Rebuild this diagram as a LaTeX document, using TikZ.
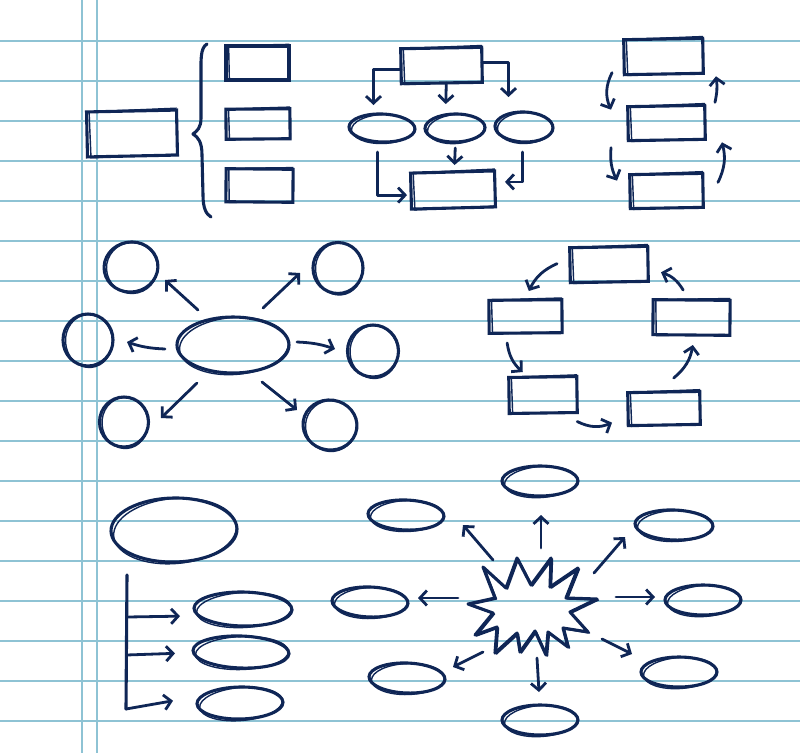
\documentclass[tikz,border=0pt]{standalone}
\usetikzlibrary{arrows.meta,shapes.geometric,calc}
\definecolor{ink}{HTML}{0F2656}
\definecolor{rule}{HTML}{8EC3D4}
\tikzset{
 skbox/.style={draw=ink, line width=3.1pt, rectangle, inner sep=0pt, outer sep=0pt},
 skboxb/.style={draw=ink, line width=1.4pt, rectangle, inner sep=0pt, outer sep=0pt},
 skell/.style={draw=ink, line width=3.1pt, ellipse, inner sep=0pt, outer sep=0pt},
 skellb/.style={draw=ink, line width=1.4pt, ellipse, inner sep=0pt, outer sep=0pt},
 hidden/.style={ellipse, inner sep=0pt, outer sep=0pt},
 arr/.style={draw=ink, line width=2.8pt, line cap=round, line join=round, -{Straight Barb[length=7pt,width=15pt]}},
 inkline/.style={draw=ink, line width=3.1pt, line cap=round, line join=round},
 inklineb/.style={draw=ink, line width=1.4pt, line cap=round, line join=round},
 paperline/.style={draw=rule, line width=1.3pt},
}
\newcommand{\skrect}[6]{%
 \node[skbox, minimum width=#4pt, minimum height=#5pt, rotate=#6] (#1) at (#2,#3) {};
 \node[skboxb, minimum width=#4pt-3pt, minimum height=#5pt+1pt, rotate=#6+1.2] (#1b) at (#2+1.5,#3-0.5) {};
}
\newcommand{\skellipse}[6]{%
 \node[skell, minimum width=2*#4pt, minimum height=2*#5pt, rotate=#6] (#1) at (#2,#3) {};
 \node[skellb, minimum width=2*#4pt-3pt, minimum height=2*#5pt+1pt, rotate=#6+4] (#1b) at (#2+1,#3+1) {};
}
\begin{document}
\begin{tikzpicture}[x=1pt,y=-1pt]
\fill[white] (0,0) rectangle (800,753);
\useasboundingbox (0,0) rectangle (800,753);
% paper
\foreach \k in {0,...,17}{\draw[paperline] (0,41+40*\k) -- (800,41+40*\k);}
\draw[paperline] (82,0) -- (82,753);
\draw[paperline] (97,0) -- (97,753);

% ---------- section 1: brace ----------
\skrect{big}{132}{133.5}{90}{45}{1.2}
\skrect{s1}{257.5}{63}{63}{34}{0}
\skrect{s2}{258}{124}{64}{30}{0.5}
\skrect{s3}{259.5}{185.5}{67}{33}{-0.5}
\draw[inkline] (207,44) .. controls (200,48) and (201,60) .. (201,80) -- (201,118)
  .. controls (201,128) and (197,131) .. (193,134)
  .. controls (198,137) and (202,142) .. (202,155) -- (203,195)
  .. controls (203,208) and (206,214) .. (211,217);

% ---------- section 2: flowchart ----------
\skrect{t2}{441.5}{65.5}{81}{35}{1}
\skellipse{e1}{382}{128}{33}{14}{-2}
\skellipse{e2}{455}{128}{30}{14}{1}
\skellipse{e3}{524}{127}{29}{15}{-2}
\skrect{b2}{453}{190}{84}{36}{1.5}
\draw[arr] ([yshift=-3.5pt]t2.west) -| ([xshift=-9pt,yshift=9pt]e1.north);
\draw[arr] ([xshift=4.5pt]t2.south) -- ([xshift=-9pt,yshift=10pt]e2.north);
\draw[arr] ([yshift=2pt]t2.east) -| ([xshift=-16pt,yshift=15pt]e3.north);
\draw[arr] ([xshift=-4pt,yshift=-10pt]e1.south) |- ([xshift=-4pt,yshift=-4pt]b2.west);
\draw[arr] ([yshift=-6pt]e2.south) -- ([xshift=2pt,yshift=7pt]b2.north);
\draw[arr] ([xshift=-1pt,yshift=-10pt]e3.south) |- ([xshift=10pt,yshift=7pt]b2.east);

% ---------- section 3: vertical cycle ----------
\skrect{a3}{663.5}{56.5}{79}{35}{1}
\skrect{b3}{666.5}{123}{77}{34}{1}
\skrect{c3}{666.5}{191}{73}{34}{1}
\draw[arr] ([xshift=-12pt,yshift=-15.5pt]a3.west) to[bend right=25] ([xshift=-17pt,yshift=14pt]b3.west);
\draw[arr] ([xshift=-17pt,yshift=-24pt]b3.west) to[bend right=15] ([xshift=-13pt,yshift=11pt]c3.west);
\draw[arr] ([xshift=15pt,yshift=8pt]c3.east) to[bend right=20] ([xshift=17pt,yshift=-20pt]b3.east);
\draw[arr] ([xshift=10pt,yshift=20pt]b3.east) to[bend right=10] ([xshift=13pt,yshift=-20.5pt]a3.east);

% ---------- section 4: mind map ----------
\skellipse{c4}{233}{345}{56}{28}{0}
\skellipse{tl4}{131}{267}{27}{25}{10}
\skellipse{tr4}{338}{268}{25}{25.5}{0}
\skellipse{l4}{88}{340}{25}{26}{0}
\skellipse{r4}{373}{351}{25.5}{26}{0}
\skellipse{bl4}{124}{422}{24.5}{25}{0}
\skellipse{br4}{330}{425}{27}{25}{-8}
\draw[arr] ([shift={(-35,-35)}]c4.center) -- ([shift={(34,13)}]tl4.center);
\draw[arr] ([shift={(30,-37)}]c4.center) -- ([shift={(-38,5)}]tr4.center);
\draw[arr] ([shift={(-68,4)}]c4.center) to[bend left=8] ([shift={(39,2)}]l4.center);
\draw[arr] ([shift={(64,-3)}]c4.center) to[bend left=8] ([shift={(-38,-2)}]r4.center);
\draw[arr] ([shift={(-36,38)}]c4.center) -- ([shift={(37,-4)}]bl4.center);
\draw[arr] ([shift={(29,37)}]c4.center) -- ([shift={(-33,-15)}]br4.center);

% ---------- section 5: cycle of boxes ----------
\skrect{T5}{609}{264.5}{78}{35}{1}
\skrect{L5}{525.5}{316.5}{73}{33}{0.5}
\skrect{R5}{691.5}{317.5}{77}{35}{-0.5}
\skrect{BL5}{543}{395}{68}{36}{0.8}
\skrect{BR5}{664}{408.5}{72}{33}{1}
\draw[arr] ([xshift=-13pt,yshift=1.5pt]T5.west) to[bend right=20] ([xshift=3.5pt,yshift=9pt]L5.north);
\draw[arr] ([xshift=-18.5pt,yshift=-10pt]L5.south) to[bend right=20] ([xshift=-20pt,yshift=5pt]BL5.north);
\draw[arr] ([yshift=-9pt]BL5.south east) to[bend right=25] ([xshift=-16pt,yshift=-13.5pt]BR5.west);
\draw[arr] ([xshift=10pt,yshift=14pt]BR5.north) to[bend right=20] ([xshift=1.5pt,yshift=-10pt]R5.south);
\draw[arr] ([xshift=-8.5pt,yshift=10pt]R5.north) to[bend right=20] ([xshift=13pt,yshift=-8.5pt]T5.east);

% ---------- section 6: tree ----------
\skellipse{E6}{174}{530}{63}{32}{1}
\skellipse{f1}{243}{609}{49}{17}{-1}
\skellipse{f2}{241}{652}{48}{16}{-2}
\skellipse{f3}{240}{703}{43}{16}{1}
\coordinate (vtop) at (127,575);
\coordinate (vbot) at (126,709);
\coordinate (v1) at (127,617);
\coordinate (v2) at (126.5,655);
\draw[inkline] (vtop) -- (vbot);
\draw[arr] (v1) -- ([xshift=-14pt,yshift=-8pt]f1.west);
\draw[arr] (v2) -- ([xshift=-18pt,yshift=-3pt]f2.west);
\draw[arr] (vbot) -- ([xshift=-24pt,yshift=3pt]f3.west);

% ---------- section 7: starburst ----------
\node[hidden, minimum width=130pt, minimum height=98pt] (burst) at (533,603) {};
\draw[inkline] (468,604) -- (495,598) -- (483,567) -- (506,588) -- (517,558) -- (531,585)
  -- (551,558) -- (550,587) -- (578,568) -- (566,598) -- (597,599) -- (570,612)
  -- (588,632) -- (563,628) -- (568,647) -- (548,632) -- (546,655) -- (535,631)
  -- (520,652) -- (517,633) -- (495,653) -- (497,627) -- (475,635) -- (493,613) -- cycle;
\draw[inklineb, shift={(1.5,1)}] (468,604) -- (495,598) -- (483,567) -- (506,588) -- (517,558) -- (531,585)
  -- (551,558) -- (550,587) -- (578,568) -- (566,598) -- (597,599) -- (570,612)
  -- (588,632) -- (563,628) -- (568,647) -- (548,632) -- (546,655) -- (535,631)
  -- (520,652) -- (517,633) -- (495,653) -- (497,627) -- (475,635) -- (493,613) -- cycle;
\skellipse{gt}{540}{481}{38}{15}{0}
\skellipse{gul}{406}{515}{38}{15}{-2}
\skellipse{gur}{674}{525}{39}{15}{-2}
\skellipse{gl}{370}{602}{38}{15}{-2}
\skellipse{gr}{703}{600}{38}{15}{0}
\skellipse{gll}{407}{678}{38}{15}{-2}
\skellipse{glr}{679}{672}{38}{15}{0}
\skellipse{gb}{540}{720}{38}{15}{0}
\draw[arr] ([shift={(8,-55)}]burst.center) -- ([shift={(1,34)}]gt.center);
\draw[arr] ([shift={(-40,-43)}]burst.center) -- ([shift={(57,10)}]gul.center);
\draw[arr] ([shift={(61,-30)}]burst.center) -- ([shift={(-49,12)}]gur.center);
\draw[arr] ([shift={(-75,-5)}]burst.center) -- ([shift={(48,-4)}]gl.center);
\draw[arr] ([shift={(83,-6)}]burst.center) -- ([shift={(-48,-3)}]gr.center);
\draw[arr] ([shift={(-50,49)}]burst.center) -- ([shift={(46,-11)}]gll.center);
\draw[arr] ([shift={(69,36)}]burst.center) -- ([shift={(-47,-18)}]glr.center);
\draw[arr] ([shift={(4,55)}]burst.center) -- ([shift={(-1,-28)}]gb.center);
\end{tikzpicture}
\end{document}
